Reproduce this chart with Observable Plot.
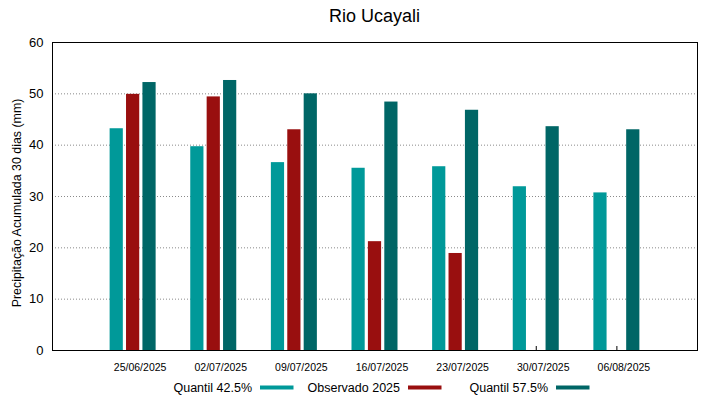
<!DOCTYPE html>
<html>
<head>
<meta charset="utf-8">
<script src="https://cdn.jsdelivr.net/npm/d3@7"></script>
<script src="https://cdn.jsdelivr.net/npm/@observablehq/plot@0.6"></script>
<style>
  html, body { margin: 0; padding: 0; background: white; }
  #chart svg { display: block; }
</style>
</head>
<body>
<div id="chart"></div>
<script>
const title = "Rio Ucayali";
const yLabel = "Precipitação Acumulada 30 dias (mm)";
const dates = ["25/06/2025","02/07/2025","09/07/2025","16/07/2025","23/07/2025","30/07/2025","06/08/2025"];
const seriesNames = ["Quantil 42.5%", "Observado 2025", "Quantil 57.5%"];
const seriesColors = ["#009999", "#990f0f", "#006666"];
const q425 = [43.2, 39.7, 36.6, 35.5, 35.8, 31.9, 30.7];
const obs2025 = [49.9, 49.4, 43.0, 21.2, 18.9, null, null];
const q575 = [52.2, 52.6, 50.0, 48.4, 46.8, 43.6, 43.0];
const yTicks = [0, 10, 20, 30, 40, 50, 60];
const gridTicks = [10, 20, 30, 40, 50];

const seriesValues = [q425, obs2025, q575];
const tables = seriesValues.map(vals =>
  dates.map((date, i) => ({date, value: vals[i]})).filter(d => d.value != null)
);

const W = 719, H = 399;
const mL = 52, mR = 22, mT = 42, mB = 49;
const step = (W - mL - mR) / (dates.length + 1);
const barW = 13.2;
const barStep = 16.4;
const inset = (step - barW) / 2;
const font = "'Liberation Sans', Arial, sans-serif";

const barMarks = tables.map((rows, k) =>
  Plot.barY(rows, {
    x: "date", y: "value", fill: seriesColors[k],
    dx: (k - 1) * barStep, insetLeft: inset, insetRight: inset
  })
);

const plot = Plot.plot({
  width: W, height: H,
  marginLeft: mL, marginRight: mR, marginTop: mT, marginBottom: mB,
  style: {fontFamily: font, background: "white", color: "black", overflow: "visible"},
  x: {domain: dates, paddingInner: 0, paddingOuter: 0.5, round: false, axis: null},
  y: {domain: [0, 60], axis: null},
  marks: [
    Plot.gridY(gridTicks, {stroke: "#8a8a8a", strokeOpacity: 1, strokeDasharray: "1,2"}),
    Plot.axisX({tickSize: 4, dy: -4, tickFormat: () => "", stroke: "black", label: null}),
    ...barMarks,
    Plot.frame({stroke: "black", strokeWidth: 1}),
    Plot.axisX({tickSize: 0, tickPadding: 13, dx: 7, fontSize: 10.5, label: null}),
    Plot.axisY({ticks: yTicks, tickSize: 0, tickPadding: 9, fontSize: 13, label: null})
  ]
});

document.getElementById("chart").appendChild(plot);

const svg = d3.select(plot);
svg.append("text")
  .attr("x", (mL + W - mR) / 2)
  .attr("y", 22)
  .attr("text-anchor", "middle")
  .attr("font-family", font)
  .attr("font-size", 18)
  .attr("fill", "black")
  .text(title);

svg.append("text")
  .attr("transform", `translate(20.5, 203) rotate(-90)`)
  .attr("text-anchor", "middle")
  .attr("font-family", font)
  .attr("font-size", 12.4)
  .attr("fill", "black")
  .text(yLabel);

const legendTextEnds = [252, 400, 548];
const legend = svg.append("g").attr("font-family", font).attr("font-size", 12.5);
seriesNames.forEach((name, k) => {
  legend.append("text")
    .attr("x", legendTextEnds[k])
    .attr("y", 391.5)
    .attr("text-anchor", "end")
    .attr("fill", "black")
    .text(name);
  legend.append("rect")
    .attr("x", legendTextEnds[k] + 8)
    .attr("y", 385.5)
    .attr("width", 33.5)
    .attr("height", 4)
    .attr("fill", seriesColors[k]);
});
</script>
</body>
</html>
